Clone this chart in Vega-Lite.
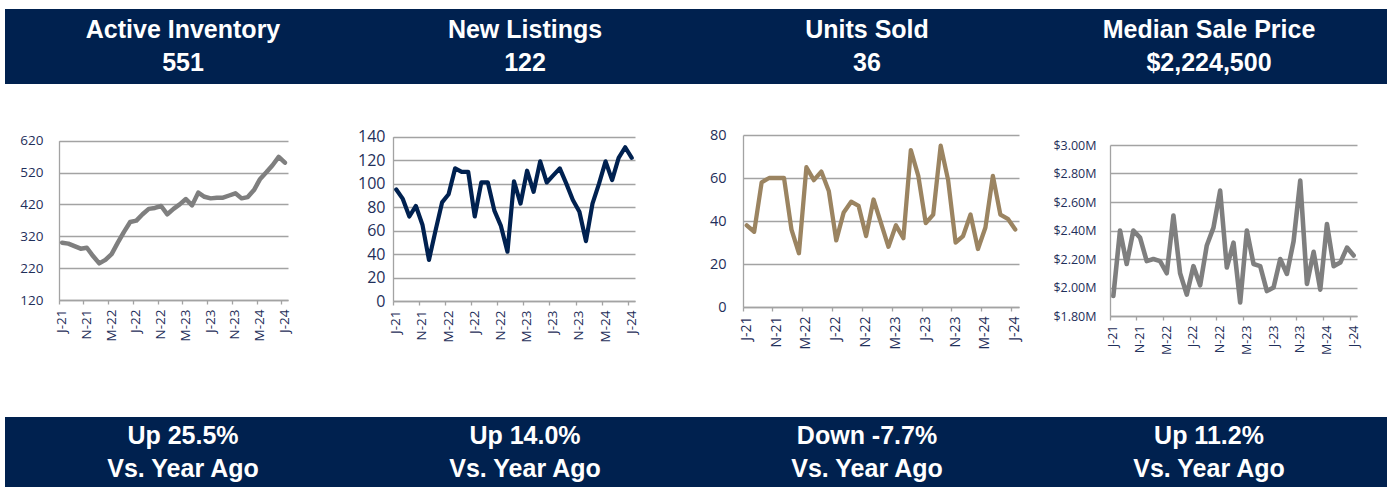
{
  "$schema": "https://vega.github.io/schema/vega-lite/v6.json",
  "padding": {"left": 5, "top": 9, "right": 5, "bottom": 0},
  "background": "white",
  "spacing": 41,
  "config": {"view": {"stroke": null}, "font": "Open Sans"},
  "datasets": {
    "d": [
      {"m": "2021-07", "inv": 300, "nl": 95, "us": 38, "msp": 1940000},
      {"m": "2021-08", "inv": 297, "nl": 87, "us": 35, "msp": 2400000},
      {"m": "2021-09", "inv": 289, "nl": 72, "us": 58, "msp": 2165000},
      {"m": "2021-10", "inv": 281, "nl": 81, "us": 60, "msp": 2400000},
      {"m": "2021-11", "inv": 284, "nl": 65, "us": 60, "msp": 2350000},
      {"m": "2021-12", "inv": 258, "nl": 35, "us": 60, "msp": 2185000},
      {"m": "2022-01", "inv": 235, "nl": 60, "us": 36, "msp": 2200000},
      {"m": "2022-02", "inv": 246, "nl": 84, "us": 25, "msp": 2185000},
      {"m": "2022-03", "inv": 264, "nl": 91, "us": 65, "msp": 2100000},
      {"m": "2022-04", "inv": 300, "nl": 113, "us": 59, "msp": 2505000},
      {"m": "2022-05", "inv": 334, "nl": 110, "us": 63, "msp": 2100000},
      {"m": "2022-06", "inv": 365, "nl": 110, "us": 54, "msp": 1950000},
      {"m": "2022-07", "inv": 369, "nl": 72, "us": 31, "msp": 2150000},
      {"m": "2022-08", "inv": 389, "nl": 101, "us": 44, "msp": 2015000},
      {"m": "2022-09", "inv": 406, "nl": 101, "us": 49, "msp": 2295000},
      {"m": "2022-10", "inv": 409, "nl": 77, "us": 47, "msp": 2420000},
      {"m": "2022-11", "inv": 415, "nl": 64, "us": 33, "msp": 2680000},
      {"m": "2022-12", "inv": 389, "nl": 42, "us": 50, "msp": 2140000},
      {"m": "2023-01", "inv": 406, "nl": 102, "us": 39, "msp": 2315000},
      {"m": "2023-02", "inv": 420, "nl": 83, "us": 28, "msp": 1895000},
      {"m": "2023-03", "inv": 437, "nl": 111, "us": 38, "msp": 2400000},
      {"m": "2023-04", "inv": 417, "nl": 93, "us": 32, "msp": 2165000},
      {"m": "2023-05", "inv": 457, "nl": 119, "us": 73, "msp": 2150000},
      {"m": "2023-06", "inv": 444, "nl": 101, "us": 61, "msp": 1975000},
      {"m": "2023-07", "inv": 439, "nl": 107, "us": 39, "msp": 2000000},
      {"m": "2023-08", "inv": 441, "nl": 113, "us": 43, "msp": 2200000},
      {"m": "2023-09", "inv": 441, "nl": 100, "us": 75, "msp": 2095000},
      {"m": "2023-10", "inv": 448, "nl": 86, "us": 59, "msp": 2325000},
      {"m": "2023-11", "inv": 455, "nl": 76, "us": 30, "msp": 2750000},
      {"m": "2023-12", "inv": 439, "nl": 51, "us": 33, "msp": 2025000},
      {"m": "2024-01", "inv": 443, "nl": 83, "us": 43, "msp": 2250000},
      {"m": "2024-02", "inv": 465, "nl": 100, "us": 27, "msp": 1985000},
      {"m": "2024-03", "inv": 500, "nl": 119, "us": 37, "msp": 2445000},
      {"m": "2024-04", "inv": 521, "nl": 103, "us": 61, "msp": 2150000},
      {"m": "2024-05", "inv": 543, "nl": 122, "us": 43, "msp": 2175000},
      {"m": "2024-06", "inv": 569, "nl": 131, "us": 41, "msp": 2280000},
      {"m": "2024-07", "inv": 551, "nl": 122, "us": 36, "msp": 2224500}
    ],
    "hdr": [
      {"col": 1, "row": 1, "t": "Active Inventory"},
      {"col": 1, "row": 2, "t": "551"},
      {"col": 2, "row": 1, "t": "New Listings"},
      {"col": 2, "row": 2, "t": "122"},
      {"col": 3, "row": 1, "t": "Units Sold"},
      {"col": 3, "row": 2, "t": "36"},
      {"col": 4, "row": 1, "t": "Median Sale Price"},
      {"col": 4, "row": 2, "t": "$2,224,500"}
    ],
    "ftr": [
      {"col": 1, "row": 1, "t": "Up 25.5%"},
      {"col": 1, "row": 2, "t": "Vs. Year Ago"},
      {"col": 2, "row": 1, "t": "Up 14.0%"},
      {"col": 2, "row": 2, "t": "Vs. Year Ago"},
      {"col": 3, "row": 1, "t": "Down  -7.7%"},
      {"col": 3, "row": 2, "t": "Vs. Year Ago"},
      {"col": 4, "row": 1, "t": "Up 11.2%"},
      {"col": 4, "row": 2, "t": "Vs. Year Ago"}
    ]
  },
  "vconcat": [
    {
      "width": 1382, "height": 75,
      "data": {"name": "hdr"},
      "view": {"fill": "#00214f", "stroke": null},
      "mark": {"type": "text", "font": "Liberation Sans", "fontWeight": "bold", "fontSize": 25, "color": "white", "baseline": "middle", "align": "center"},
      "encoding": {
        "x": {"field": "col", "type": "ordinal", "axis": null, "scale": {"type": "band", "paddingInner": 0, "paddingOuter": 0.0205, "align": 0.5}},
        "y": {"field": "row", "type": "ordinal", "axis": null, "scale": {"type": "band", "paddingInner": 0, "paddingOuter": 0.103, "align": 0.5}},
        "text": {"field": "t", "type": "nominal"}
      }
    },
    {
      "spacing": 0,
      "hconcat": [
        {
          "width": 283, "height": 175,
          "data": {"name": "d"},
          "view": {"stroke": null},
          "mark": {"type": "line", "color": "#7f7f7f", "strokeWidth": 4.5, "strokeJoin": "round", "strokeCap": "round"},
          "encoding": {
            "x": {"field": "m", "type": "ordinal", "bandPosition": 0.5,
              "scale": {"type": "band", "paddingInner": 0, "paddingOuter": 0, "range": [54, 283]},
              "axis": {"title": null, "values": ["2021-07","2021-11","2022-03","2022-07","2022-11","2023-03","2023-07","2023-11","2024-03","2024-07"],
                "bandPosition": 0, "labelAngle": -90, "labelExpr": "['J','F','M','A','M','J','J','A','S','O','N','D'][toNumber(substring(datum.value,5,7))-1] + '-' + substring(datum.value,2,4)",
                "tickSize": 4, "tickColor": "#a3a3a3", "tickWidth": 1.3, "domainColor": "#a3a3a3", "domainWidth": 1.3,
                "labelColor": "#1f2f5a", "labelFont": "Open Sans", "labelFontSize": 13.5, "labelPadding": 5, "grid": false, "minExtent": 60}},
            "y": {"field": "inv", "type": "quantitative",
              "scale": {"domain": [120, 620], "range": [175, 15.7], "nice": false, "zero": false},
              "axis": {"title": null, "values": [120, 220, 320, 420, 520, 620], "grid": true, "gridColor": "#a3a3a3", "gridWidth": 1.3,
                "domainColor": "#a3a3a3", "domainWidth": 1.3, "ticks": false, "tickSize": 0, "labelPadding": 16, "labelFlush": false,
                "offset": -54,
                "labelColor": "#1f2f5a", "labelFont": "Open Sans", "labelFontSize": 13.5, "minExtent": 0}}
          }
        },
        {
          "width": 242, "height": 176,
          "data": {"name": "d"},
          "view": {"stroke": null},
          "mark": {"type": "line", "color": "#002150", "strokeWidth": 4.2, "strokeJoin": "round", "strokeCap": "round"},
          "encoding": {
            "x": {"field": "m", "type": "ordinal", "bandPosition": 0.5,
              "scale": {"type": "band", "paddingInner": 0, "paddingOuter": 0},
              "axis": {"title": null, "values": ["2021-07","2021-11","2022-03","2022-07","2022-11","2023-03","2023-07","2023-11","2024-03","2024-07"],
                "bandPosition": 0, "labelAngle": -90, "labelExpr": "['J','F','M','A','M','J','J','A','S','O','N','D'][toNumber(substring(datum.value,5,7))-1] + '-' + substring(datum.value,2,4)",
                "tickSize": 4, "tickColor": "#a3a3a3", "tickWidth": 1.3, "domainColor": "#a3a3a3", "domainWidth": 1.3,
                "labelColor": "#1f2f5a", "labelFont": "Open Sans", "labelFontSize": 13.5, "labelPadding": 5, "grid": false, "minExtent": 60}},
            "y": {"field": "nl", "type": "quantitative",
              "scale": {"domain": [0, 140], "range": [176, 11.7], "nice": false},
              "axis": {"title": null, "values": [0, 20, 40, 60, 80, 100, 120, 140], "grid": true, "gridColor": "#a3a3a3", "gridWidth": 1.3,
                "domainColor": "#a3a3a3", "domainWidth": 1.3, "ticks": false, "tickSize": 0, "labelPadding": 8, "labelFlush": false,
                "labelColor": "#1f2f5a", "labelFont": "Open Sans", "labelFontSize": 16, "minExtent": 102}}
          }
        },
        {
          "width": 276, "height": 182,
          "data": {"name": "d"},
          "view": {"stroke": null},
          "mark": {"type": "line", "color": "#9b8461", "strokeWidth": 4.3, "strokeJoin": "round", "strokeCap": "round"},
          "encoding": {
            "x": {"field": "m", "type": "ordinal", "bandPosition": 0.5,
              "scale": {"type": "band", "paddingInner": 0, "paddingOuter": 0},
              "axis": {"title": null, "values": ["2021-07","2021-11","2022-03","2022-07","2022-11","2023-03","2023-07","2023-11","2024-03","2024-07"],
                "bandPosition": 0, "labelAngle": -90, "labelExpr": "['J','F','M','A','M','J','J','A','S','O','N','D'][toNumber(substring(datum.value,5,7))-1] + '-' + substring(datum.value,2,4)",
                "tickSize": 4, "tickColor": "#a3a3a3", "tickWidth": 1.3, "domainColor": "#a3a3a3", "domainWidth": 1.3,
                "labelColor": "#1f2f5a", "labelFont": "Open Sans", "labelFontSize": 14, "labelPadding": 5, "grid": false, "minExtent": 60}},
            "y": {"field": "us", "type": "quantitative",
              "scale": {"domain": [0, 80], "range": [182, 10], "nice": false},
              "axis": {"title": null, "values": [0, 20, 40, 60, 80], "grid": true, "gridColor": "#a3a3a3", "gridWidth": 1.3,
                "domainColor": "#a3a3a3", "domainWidth": 1.3, "ticks": false, "tickSize": 0, "labelPadding": 17, "labelFlush": false,
                "labelColor": "#1f2f5a", "labelFont": "Open Sans", "labelFontSize": 14.5, "minExtent": 105}}
          }
        },
        {
          "width": 247, "height": 191,
          "data": {"name": "d"},
          "view": {"stroke": null},
          "mark": {"type": "line", "color": "#7f7f7f", "strokeWidth": 4.6, "strokeJoin": "round", "strokeCap": "round"},
          "encoding": {
            "x": {"field": "m", "type": "ordinal", "bandPosition": 0.5,
              "scale": {"type": "band", "paddingInner": 0, "paddingOuter": 0},
              "axis": {"title": null, "values": ["2021-07","2021-11","2022-03","2022-07","2022-11","2023-03","2023-07","2023-11","2024-03","2024-07"],
                "bandPosition": 0, "labelAngle": -90, "labelExpr": "['J','F','M','A','M','J','J','A','S','O','N','D'][toNumber(substring(datum.value,5,7))-1] + '-' + substring(datum.value,2,4)",
                "tickSize": 4, "tickColor": "#a3a3a3", "tickWidth": 1.3, "domainColor": "#a3a3a3", "domainWidth": 1.3,
                "labelColor": "#1f2f5a", "labelFont": "Open Sans", "labelFontSize": 12.5, "labelPadding": 5, "grid": false, "minExtent": 60}},
            "y": {"field": "msp", "type": "quantitative",
              "scale": {"domain": [1800000, 3000000], "range": [191, 20], "nice": false, "zero": false},
              "axis": {"title": null, "values": [1800000, 2000000, 2200000, 2400000, 2600000, 2800000, 3000000], "grid": true, "gridColor": "#a3a3a3", "gridWidth": 1.3,
                "domainColor": "#a3a3a3", "domainWidth": 1.3, "ticks": false, "tickSize": 0, "labelPadding": 14, "labelFlush": false,
                "labelExpr": "'$' + format(datum.value / 1000000, '.2f') + 'M'",
                "labelColor": "#1f2f5a", "labelFont": "Open Sans", "labelFontSize": 12.5, "minExtent": 88}}
          }
        }
      ]
    },
    {
      "width": 1382, "height": 70,
      "data": {"name": "ftr"},
      "view": {"fill": "#00214f", "stroke": null},
      "mark": {"type": "text", "font": "Liberation Sans", "fontWeight": "bold", "fontSize": 25, "color": "white", "baseline": "middle", "align": "center"},
      "encoding": {
        "x": {"field": "col", "type": "ordinal", "axis": null, "scale": {"type": "band", "paddingInner": 0, "paddingOuter": 0.0205, "align": 0.5}},
        "y": {"field": "row", "type": "ordinal", "axis": null, "scale": {"type": "band", "paddingInner": 0, "paddingOuter": 0.0606, "align": 0.625}},
        "text": {"field": "t", "type": "nominal"}
      }
    }
  ]
}
